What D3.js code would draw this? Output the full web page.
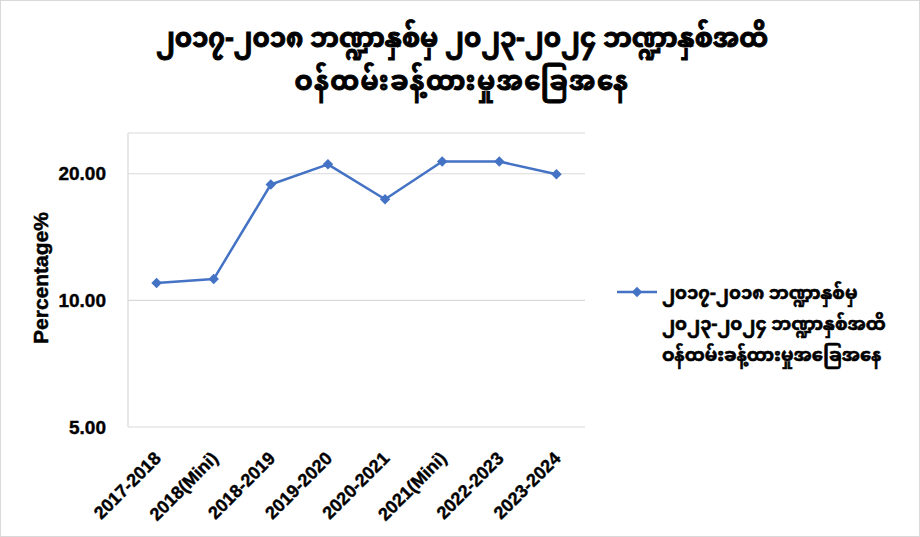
<!DOCTYPE html>
<html>
<head>
<meta charset="utf-8">
<script src="https://cdn.jsdelivr.net/npm/d3@7"></script>
<style>
  html, body { margin: 0; padding: 0; background: #fff; }
  svg { display: block; }
  .mm { font-family: "Noto Sans Myanmar", "Padauk", "Myanmar Text", "Myanmar3", sans-serif; }
  .lat { font-family: "Liberation Sans", Arial, sans-serif; font-weight: bold; }
</style>
</head>
<body>
<svg id="chart" width="920" height="537"></svg>
<script>
const categories = ["2017-2018", "2018(Mini)", "2018-2019", "2019-2020", "2020-2021", "2021(Mini)", "2022-2023", "2023-2024"];
const values = [11.0, 11.24, 18.86, 21.06, 17.39, 21.39, 21.39, 19.94];
const yTicks = [5, 10, 20];
const titleLines = ["၂၀၁၇-၂၀၁၈ ဘဏ္ဍာနှစ်မှ ၂၀၂၃-၂၀၂၄ ဘဏ္ဍာနှစ်အထိ", "ဝန်ထမ်းခန့်ထားမှုအခြေအနေ"];
const legendLines = ["၂၀၁၇-၂၀၁၈ ဘဏ္ဍာနှစ်မှ", "၂၀၂၃-၂၀၂၄ ဘဏ္ဍာနှစ်အထိ", "ဝန်ထမ်းခန့်ထားမှုအခြေအနေ"];
const yTitle = "Percentage%";

const color = "#4472C4";
const svg = d3.select("#chart");
const W = 920, H = 537;
const plot = { left: 128, right: 585, top: 133, bottom: 427 };

svg.append("rect").attr("x", 0.5).attr("y", 0.5).attr("width", W - 1).attr("height", H - 1)
  .attr("fill", "#fff").attr("stroke", "#d9d9d9");

const x = d3.scaleBand().domain(categories).range([plot.left, plot.right]);
const y = d3.scaleLog().domain([5, 25]).range([plot.bottom, plot.top]);

// gridlines
const gridVals = yTicks.concat([25]);
svg.append("g").selectAll("line").data(gridVals).join("line")
  .attr("x1", plot.left).attr("x2", plot.right)
  .attr("y1", d => y(d)).attr("y2", d => y(d))
  .attr("stroke", "#d9d9d9").attr("stroke-width", 1.2);

// left axis line
svg.append("line").attr("x1", plot.left).attr("x2", plot.left)
  .attr("y1", plot.top).attr("y2", plot.bottom)
  .attr("stroke", "#d9d9d9").attr("stroke-width", 1.2);

// y axis labels
const yAxis = d3.axisLeft(y).tickValues(yTicks).tickFormat(d3.format(".2f")).tickSize(0).tickPadding(22);
const gy = svg.append("g").attr("transform", `translate(${plot.left},0)`).call(yAxis);
gy.select(".domain").remove();
gy.selectAll("text").attr("class", "lat").attr("font-size", 19).attr("fill", "#000")
  .style("font-family", "'Liberation Sans', Arial, sans-serif")
  .attr("stroke", "#000").attr("stroke-width", 0.4);

// x axis labels
const xAxis = d3.axisBottom(x).tickSize(0).tickPadding(0);
const gx = svg.append("g").attr("transform", `translate(0,${plot.bottom})`).call(xAxis);
gx.select(".domain").remove();
gx.selectAll("text")
  .attr("class", "lat").attr("font-size", 18).attr("fill", "#000")
  .style("font-family", "'Liberation Sans', Arial, sans-serif")
  .attr("stroke", "#000").attr("stroke-width", 0.4)
  .attr("text-anchor", "end")
  .attr("dy", "0.35em").attr("y", 0)
  .attr("transform", "translate(1,28) rotate(-45)");

// y title
svg.append("text").attr("class", "lat")
  .attr("transform", `translate(48,${(plot.top + plot.bottom) / 2 - 2}) rotate(-90)`)
  .attr("text-anchor", "middle").attr("font-size", 21)
  .attr("stroke", "#000").attr("stroke-width", 0.5).text(yTitle);

// line
const line = d3.line().x((d, i) => x(categories[i]) + x.bandwidth() / 2).y(d => y(d));
svg.append("path").datum(values).attr("d", line)
  .attr("fill", "none").attr("stroke", color).attr("stroke-width", 2.5).attr("stroke-linejoin", "round");

const diamond = d3.symbol().type(d3.symbolDiamond2).size(70);
svg.append("g").selectAll("path").data(values).join("path")
  .attr("d", diamond)
  .attr("transform", (d, i) => `translate(${x(categories[i]) + x.bandwidth() / 2},${y(d)})`)
  .attr("fill", color);

// title
const title = svg.append("text").attr("class", "mm").attr("text-anchor", "middle")
  .attr("font-size", 26).attr("font-weight", "bold").attr("fill", "#000")
  .attr("stroke", "#000").attr("stroke-width", 0.9);
title.selectAll("tspan").data(titleLines).join("tspan")
  .attr("x", 462).attr("y", (d, i) => 47 + i * 43)
  .attr("letter-spacing", (d, i) => i === 1 ? 1.5 : 0)
  .text(d => d);

// legend
const lg = svg.append("g");
lg.append("line").attr("x1", 617).attr("x2", 657).attr("y1", 292).attr("y2", 292)
  .attr("stroke", color).attr("stroke-width", 2.5);
lg.append("path").attr("d", diamond).attr("transform", "translate(637,292)").attr("fill", color);
const lt = lg.append("text").attr("class", "mm").attr("font-size", 18).attr("font-weight", "bold").attr("fill", "#000")
  .attr("stroke", "#000").attr("stroke-width", 0.6);
lt.selectAll("tspan").data(legendLines).join("tspan")
  .attr("x", 662).attr("y", (d, i) => 299 + i * 31).text(d => d);
</script>
</body>
</html>
